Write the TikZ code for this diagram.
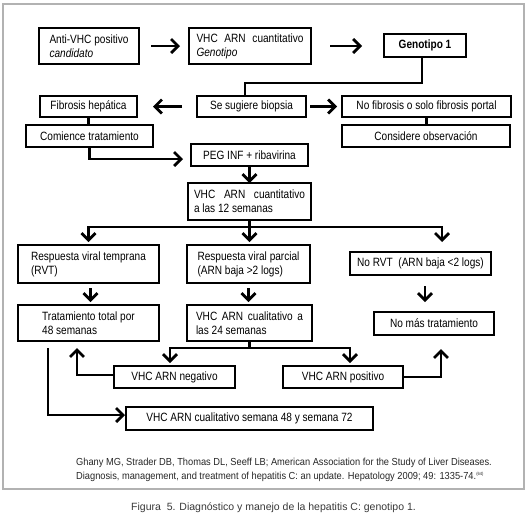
\documentclass[tikz,border=0pt]{standalone}
\usepackage{fontspec}
\setmainfont{Liberation Sans}
\newfontfamily\condfont[FakeStretch=0.84]{Liberation Sans}
\newfontfamily\citefont[FakeStretch=0.91]{Liberation Sans}
\usetikzlibrary{arrows.meta}
\newcommand\mkbox[7][]{%
  \pgfmathsetmacro\bw{#5-#3}%
  \pgfmathsetmacro\bh{#6-#4}%
  \node[box,#1,anchor=north west,minimum width=\bw pt,minimum height=\bh pt] (#2) at (#3,#4) {#7};}
\begin{document}
\begin{tikzpicture}[x=1pt,y=-1pt,
  box/.style={draw,line width=1.3pt,inner sep=2pt,outer sep=0pt,align=left,
    font=\condfont\fontsize{12}{14.2}\selectfont},
  arr/.style={line width=2.8pt,-{Straight Barb[length=7pt,width=14pt]}},
  thk/.style={line width=2.8pt},
  mid/.style={line width=2.3pt}]
\useasboundingbox (0,0) rectangle (530,517);
\draw[black!30, line width=1.5pt] (3,4) rectangle (524,489);

\mkbox{anti}{39}{28}{139}{64}{Anti-VHC positivo\\\textit{candidato}}
\mkbox{vhc}{189}{28}{311}{64}{\makebox[107pt][s]{VHC ARN cuantitativo}\\\textit{Genotipo}}
\mkbox[line width=1.6pt]{geno}{384}{34}{466}{57}{\textbf{Genotipo 1}}
\mkbox{biop}{197}{96}{306}{117}{Se sugiere biopsia}
\mkbox{fib}{40}{96}{137}{117}{Fibrosis hepática}
\mkbox{nofib}{342}{96}{511}{117}{No fibrosis o solo fibrosis portal}
\mkbox{com}{26}{125}{153}{147}{Comience tratamiento}
\mkbox{cons}{342}{125}{510}{147}{Considere observación}
\mkbox{peg}{191}{144}{308}{166}{PEG INF + ribavirina}
\mkbox{v12}{188}{183}{311}{220}{\makebox[111pt][s]{VHC ARN cuantitativo}\\a las 12 semanas}
\mkbox{rvt}{18}{245}{159}{283}{Respuesta viral temprana\\(RVT)}
\mkbox{par}{187}{245}{310}{283}{Respuesta viral parcial\\(ARN baja >2 logs)}
\mkbox{norvt}{350}{252}{491}{275}{No RVT\ \ (ARN baja <2 logs)}
\mkbox{trat}{18}{305}{159}{341}{Tratamiento total por\\48 semanas}
\mkbox{v24}{187}{305}{312}{341}{\makebox[107pt][s]{VHC ARN cualitativo a}\\las 24 semanas}
\mkbox{nomas}{374}{312}{494}{335}{No más tratamiento}
\mkbox{neg}{114}{366}{235}{388}{VHC ARN negativo}
\mkbox{pos}{283}{366}{403}{388}{VHC ARN positivo}
\mkbox{sem}{126}{407}{373}{430}{VHC ARN cualitativo semana 48 y semana 72}

% top row
\draw[arr,shorten <=12pt,shorten >=9pt] (anti.east) -- (anti.east -| vhc.west);
\draw[arr,shorten <=19pt,shorten >=22pt] (vhc.east) -- (vhc.east -| geno.west);
\draw[thk] ([xshift=-3pt]geno.south) -- ++(0,26) coordinate (g1) -| ([xshift=-6.5pt]biop.north);
% biopsy row
\draw[arr,shorten <=15pt,shorten >=16pt] (biop.west) -- (fib.east);
\draw[arr,shorten <=4pt,shorten >=5pt] (biop.east) -- (nofib.west);
\draw[mid] (fib.south) -- (fib.south |- com.north);
\draw[mid] (nofib.south) -- (nofib.south |- cons.north);
\draw[arr,shorten >=8pt] (com.south) |- ([yshift=-4pt]peg.west);
\draw[arr] (peg.south) -- (peg.south |- v12.north);
% 12 weeks split
\draw[thk] (v12.south) -- ++(0,7) coordinate (b12);
\coordinate (nr) at ([xshift=21.5pt]norvt.north);
\draw[thk,line cap=rect] (b12 -| rvt.north) -- (b12 -| nr);
\draw[arr,shorten >=3pt] (b12 -| rvt.north) -- (rvt.north);
\draw[arr,shorten >=3pt] (b12) -- (b12 |- par.north);
\draw[arr,shorten >=10pt] (b12 -| nr) -- (nr);
% short arrows
\draw[arr,shorten <=5pt,shorten >=3pt] ([xshift=2pt]rvt.south) -- ([xshift=2pt]rvt.south |- trat.north);
\draw[arr,shorten <=5pt,shorten >=3pt] (par.south) -- (par.south |- v24.north);
\draw[arr,shorten <=11pt,shorten >=10pt] ([xshift=4.5pt]norvt.south) -- ([xshift=4.5pt]norvt.south |- nomas.north);
% 24 weeks split
\draw[thk] (v24.south) -- ++(0,7) coordinate (b24);
\coordinate (ng) at ([xshift=-4.5pt]neg.north);
\coordinate (ps) at ([xshift=7pt]pos.north);
\draw[thk,line cap=rect] (b24 -| ng) -- (b24 -| ps);
\draw[arr,shorten >=3pt] (b24 -| ng) -- (ng);
\draw[arr,shorten >=3pt] (b24 -| ps) -- (ps);
\draw[arr,shorten >=7pt] ([yshift=2pt]neg.west) -| ([xshift=-11.5pt]trat.south);
\draw[arr,shorten >=14pt] (pos.east) -| ([xshift=7pt]nomas.south);
\draw[arr,shorten <=7pt,shorten >=1pt] ([xshift=-40.5pt]trat.south) |- ([yshift=3.5pt]sem.west);

% citation and caption
\node[anchor=west,inner sep=0pt,font=\citefont\fontsize{10.2}{12}\selectfont,text=black!85] (c1) at (76,463)
  {Ghany MG, Strader DB, Thomas DL, Seeff LB; American Association for the Study of Liver Diseases.};
\node[anchor=west,inner sep=0pt,font=\citefont\fontsize{10.2}{12}\selectfont,text=black!85] (c2) at (76,477)
  {Diagnosis, management, and treatment of hepatitis C: an update. Hepatology 2009; 49: 1335-74.\raisebox{4pt}{\fontsize{4.5}{4.5}\selectfont(64)}};
\node[anchor=west,inner sep=0pt,font=\fontsize{10.5}{12}\selectfont,text=black!78] (cap) at (131,508)
  {Figura\ \ 5. Diagnóstico y manejo de la hepatitis C: genotipo 1.};
\end{tikzpicture}
\end{document}
